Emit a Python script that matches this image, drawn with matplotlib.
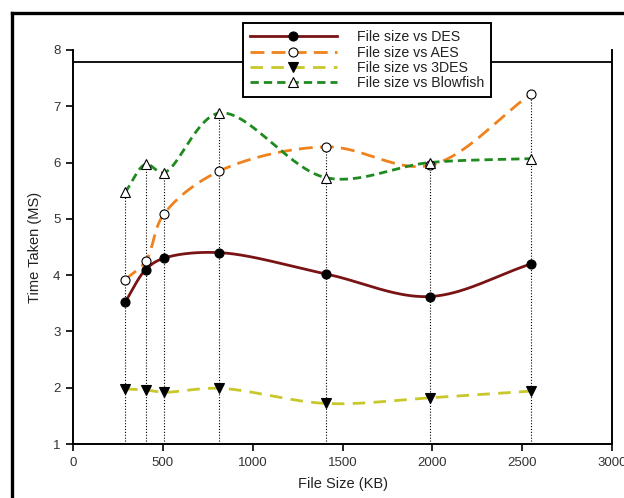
import numpy as np
import matplotlib
matplotlib.use("Agg")
import matplotlib.pyplot as plt
from matplotlib.lines import Line2D

plt.rcParams['font.family'] = ['Liberation Sans', 'DejaVu Sans']

file_size = [290, 405, 505, 815, 1410, 1985, 2550]
des = [3.52, 4.10, 4.30, 4.40, 4.02, 3.62, 4.20]
aes = [3.92, 4.25, 5.08, 5.85, 6.28, 5.95, 7.22]
tdes = [1.98, 1.96, 1.92, 1.99, 1.72, 1.82, 1.94]
blowfish = [5.47, 5.97, 5.82, 6.88, 5.73, 6.00, 6.07]
labels = ["File size vs DES", "File size vs AES", "File size vs 3DES", "File size vs Blowfish"]
x_ticks = [0, 500, 1000, 1500, 2000, 2500, 3000]
y_ticks = [1, 2, 3, 4, 5, 6, 7, 8]


def catmull_rom(ax, x, y, n_seg=60, alpha=0.5):
    """Centripetal Catmull-Rom curve through the points, built in display space."""
    P = ax.transData.transform(np.column_stack([x, y]))
    P = np.vstack([2 * P[0] - P[1], P, 2 * P[-1] - P[-2]])
    out = []
    for i in range(1, len(P) - 2):
        p0, p1, p2, p3 = P[i - 1], P[i], P[i + 1], P[i + 2]
        t0 = 0.0
        t1 = t0 + np.linalg.norm(p1 - p0) ** alpha
        t2 = t1 + np.linalg.norm(p2 - p1) ** alpha
        t3 = t2 + np.linalg.norm(p3 - p2) ** alpha
        t = np.linspace(t1, t2, n_seg)[:, None]
        a1 = (t1 - t) / (t1 - t0) * p0 + (t - t0) / (t1 - t0) * p1
        a2 = (t2 - t) / (t2 - t1) * p1 + (t - t1) / (t2 - t1) * p2
        a3 = (t3 - t) / (t3 - t2) * p2 + (t - t2) / (t3 - t2) * p3
        b1 = (t2 - t) / (t2 - t0) * a1 + (t - t0) / (t2 - t0) * a2
        b2 = (t3 - t) / (t3 - t1) * a2 + (t - t1) / (t3 - t1) * a3
        c = (t2 - t) / (t2 - t1) * b1 + (t - t1) / (t2 - t1) * b2
        out.append(c if i == 1 else c[1:])
    pts = np.vstack(out)
    back = ax.transData.inverted().transform(pts)
    return back[:, 0], back[:, 1]


W, H = 624, 498
fig = plt.figure(figsize=(W / 100, H / 100), dpi=100)
ax = fig.add_axes([73 / W, (H - 444) / H, (612 - 73) / W, (444 - 50) / H])
ax.set_xlim(0, 3000)
ax.set_ylim(1, 8)

# outer frame of the scanned figure
fig.add_artist(Line2D([12 / W, 12 / W], [0, (H - 13) / H], color='black', lw=2.4, transform=fig.transFigure))
fig.add_artist(Line2D([12 / W, 1], [(H - 13) / H, (H - 13) / H], color='black', lw=2.4, transform=fig.transFigure))

# vertical drop lines
tops = np.max(np.vstack([des, aes, tdes, blowfish]), axis=0)
ax.vlines(file_size, 1, tops, colors='black', linestyles=(0, (1, 1.6)), lw=0.8, zorder=1)

styles = [
    dict(data=des, color='#7a1414', dashes=None, marker='o', mfc='black'),
    dict(data=aes, color='#f0821e', dashes=(5, 2.6), marker='o', mfc='white'),
    dict(data=tdes, color='#c8c82a', dashes=(4.5, 3), marker='v', mfc='black'),
    dict(data=blowfish, color='#1f8a1f', dashes=(3, 1.8), marker='^', mfc='white'),
]

handles = []
for s, lab in zip(styles, labels):
    xs, ys = catmull_rom(ax, file_size, s['data'])
    kw = dict(color=s['color'], lw=2.0)
    if s['dashes'] is not None:
        kw['dashes'] = s['dashes']
    ax.plot(xs, ys, zorder=2, **kw)
    ax.plot(file_size, s['data'], ls='none', marker=s['marker'], ms=6.5,
            mfc=s['mfc'], mec='black', mew=0.8, zorder=3)
    handles.append(Line2D([], [], marker=s['marker'], ms=6.5, mfc=s['mfc'],
                          mec='black', mew=0.8, label=lab, **kw))

ax.axhline(7.78, color='black', lw=1.3, zorder=0)

ax.set_xticks(x_ticks)
ax.set_yticks(y_ticks)
ax.spines['top'].set_visible(False)
for sp in ['left', 'bottom', 'right']:
    ax.spines[sp].set_linewidth(1.4)
ax.tick_params(axis='both', direction='out', length=5, width=1.2,
               labelsize=9.5, labelcolor='#333333', pad=4)
ax.set_xlabel("File Size (KB)", fontsize=10.5, color='#222222', labelpad=6)
ax.set_ylabel("Time Taken (MS)", fontsize=10.5, color='#222222', labelpad=8)

leg = fig.legend(handles=handles, loc='upper left',
                 bbox_to_anchor=(243 / W, (H - 23) / H), fontsize=10.2,
                 handlelength=6.1, handletextpad=1.45, labelspacing=0.1,
                 borderpad=0.5, borderaxespad=0, fancybox=False, framealpha=1,
                 edgecolor='black', numpoints=1, markerfirst=True)
leg.get_frame().set_linewidth(1.4)
for t in leg.get_texts():
    t.set_color('#222222')

fig.savefig("out.png", dpi=100)
